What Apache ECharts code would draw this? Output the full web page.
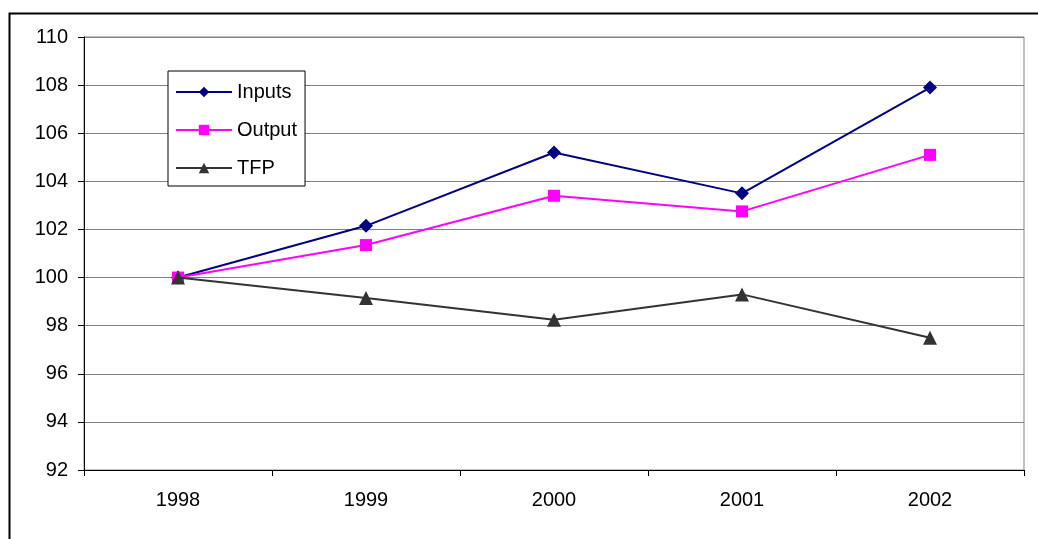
<!DOCTYPE html>
<html>
<head>
<meta charset="utf-8">
<script src="https://cdn.jsdelivr.net/npm/echarts@6/dist/echarts.min.js"></script>
<style>
  html, body { margin: 0; padding: 0; background: #fff; }
  #chart { width: 1038px; height: 539px; }
</style>
</head>
<body>
<div id="chart"></div>
<script>
// 数据
const years = ["1998", "1999", "2000", "2001", "2002"];
const inputs = [100, 102.15, 105.2, 103.5, 107.9];
const output = [100, 101.35, 103.4, 102.75, 105.1];
const tfp = [100, 99.15, 98.25, 99.3, 97.5];

const font = "Liberation Sans, Arial, sans-serif";

const chart = echarts.init(document.getElementById("chart"));
chart.setOption({
  animation: false,
  backgroundColor: "#fff",
  textStyle: { fontFamily: font },
  // 外框
  graphic: [
    {
      type: "rect",
      left: 7,
      top: 11,
      shape: { width: 1060, height: 560 },
      style: { fill: "none", stroke: "#000", lineWidth: 2 },
      silent: true,
    },
  ],
  grid: {
    left: 84,
    top: 37,
    right: 14,
    bottom: 69,
    show: true,
    borderColor: "#808080",
    borderWidth: 1,
  },
  legend: {
    orient: "vertical",
    left: 168,
    top: 71,
    padding: [11, 8, 8, 7],
    itemGap: 18,
    itemWidth: 56,
    itemHeight: 13,
    backgroundColor: "#fff",
    borderColor: "#000",
    borderWidth: 1,
    textStyle: { fontSize: 20, color: "#000", fontFamily: font },
    data: ["Inputs", "Output", "TFP"],
  },
  xAxis: {
    type: "category",
    data: years,
    boundaryGap: true,
    axisLine: { lineStyle: { color: "#000", width: 1 } },
    axisTick: { show: true, length: 6, lineStyle: { color: "#000" } },
    axisLabel: { fontSize: 20, color: "#000", margin: 20, fontFamily: font },
    splitLine: { show: false },
  },
  yAxis: {
    type: "value",
    min: 92,
    max: 110,
    interval: 2,
    axisLine: { show: true, lineStyle: { color: "#000", width: 1 } },
    axisTick: { show: true, length: 6, lineStyle: { color: "#000" } },
    axisLabel: { fontSize: 20, color: "#000", margin: 16, fontFamily: font },
    splitLine: { lineStyle: { color: "#808080", width: 1 } },
  },
  series: [
    {
      name: "Inputs",
      type: "line",
      data: inputs,
      symbol: "diamond",
      symbolSize: 14,
      color: "#000080",
      lineStyle: { width: 2, color: "#000080" },
      itemStyle: { color: "#000080" },
      z: 3,
    },
    {
      name: "Output",
      type: "line",
      data: output,
      symbol: "rect",
      symbolSize: 12,
      color: "#ff00ff",
      lineStyle: { width: 2, color: "#ff00ff" },
      itemStyle: { color: "#ff00ff" },
      z: 4,
    },
    {
      name: "TFP",
      type: "line",
      data: tfp,
      symbol: "triangle",
      symbolSize: 14,
      color: "#333333",
      lineStyle: { width: 2, color: "#333333" },
      itemStyle: { color: "#333333" },
      z: 5,
    },
  ],
});
</script>
</body>
</html>
